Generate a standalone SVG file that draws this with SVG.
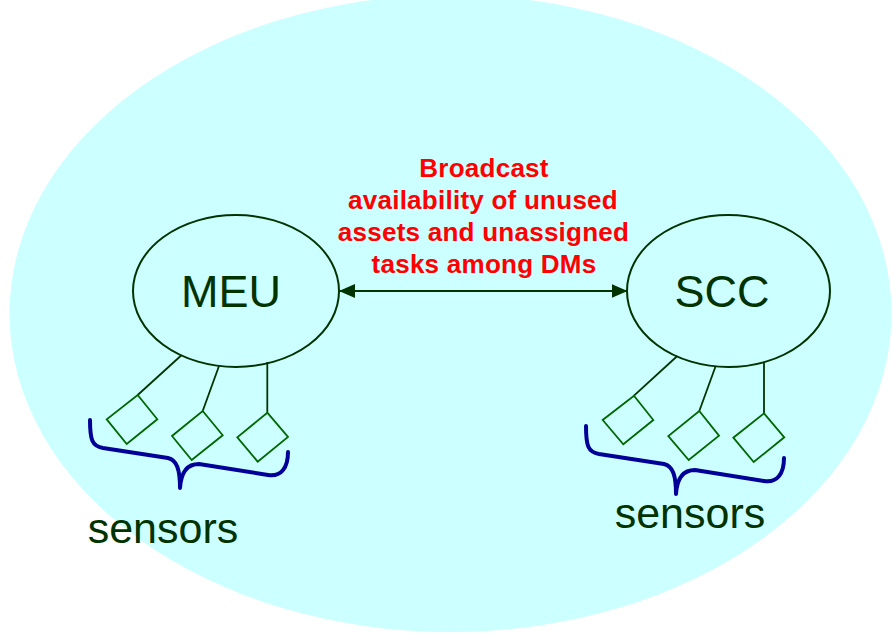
<svg xmlns="http://www.w3.org/2000/svg" width="894" height="635" viewBox="0 0 894 635">
  <style>
    .node { fill: none; stroke: #003300; stroke-width: 2; }
    .lbl { font-family: "Liberation Sans", Arial, sans-serif; fill: #003300; text-anchor: middle; }
    .red { font-family: "Liberation Sans", Arial, sans-serif; fill: #ff0000; font-weight: bold; font-size: 26px; letter-spacing: 0.25px; text-anchor: middle; }
    .wire { stroke: #003300; stroke-width: 1.8; fill: none; }
    .sensor { fill: none; stroke: #006600; stroke-width: 1.8; }
    .brace { fill: none; stroke: #000099; stroke-width: 4; stroke-linecap: round; stroke-linejoin: round; }
  </style>
  <defs>
    <marker id="ah" markerUnits="userSpaceOnUse" markerWidth="16" markerHeight="16" viewBox="0 0 16 16" refX="15" refY="8" orient="auto-start-reverse">
      <path d="M0,1 L16,8 L0,15 Z" fill="#003300"/>
    </marker>
  </defs>
  <rect width="894" height="635" fill="#ffffff"/>
  <ellipse id="background" cx="450.5" cy="313.5" rx="441" ry="318.5" fill="#ccffff"/>

  <g id="meu">
    <ellipse class="node" cx="236" cy="291" rx="103" ry="76" fill="#ccffff"/>
    <text class="lbl" x="231" y="307" font-size="45">MEU</text>
  </g>
  <g id="scc">
    <ellipse class="node" cx="728.5" cy="291" rx="101.5" ry="76" fill="#ccffff"/>
    <text class="lbl" x="722" y="307" font-size="45">SCC</text>
  </g>

  <g id="message">
    <text class="red" x="484" y="177">Broadcast</text>
    <text class="red" x="483" y="209">availability of unused</text>
    <text class="red" x="483.5" y="241">assets and unassigned</text>
    <text class="red" x="484" y="273">tasks among DMs</text>
  </g>

  <g id="connectors">
    <line x1="340" y1="291" x2="626.5" y2="291" stroke="#003300" stroke-width="2" marker-start="url(#ah)" marker-end="url(#ah)"/>
    <line class="wire" x1="181.7" y1="355" x2="137.7" y2="395"/>
    <line class="wire" x1="219" y1="366" x2="202.7" y2="411"/>
    <line class="wire" x1="267.3" y1="362" x2="267.3" y2="412.7"/>
    <line class="wire" x1="677.3" y1="356" x2="634" y2="395.7"/>
    <line class="wire" x1="715.7" y1="366" x2="699.3" y2="411"/>
    <line class="wire" x1="764" y1="362.5" x2="764" y2="413.3"/>
  </g>

  <g id="meu-sensors">
    <polygon class="sensor" points="137.7,395 157.3,419.3 126.7,444 106.7,419.3"/>
    <polygon class="sensor" points="202.7,411 222.7,435.3 191.7,460 172,436"/>
    <polygon class="sensor" points="267.3,412.7 288,437 257.7,461.7 237.3,437.3"/>
    <path class="brace" d="M90,420 C90,440 92,446 103,448 L168,458 C177,460 180,470 180,488 C181,472 187,464 199,464 L268,475 C281,477 288,468 288,452"/>
    <text class="lbl" x="163" y="543" font-size="43">sensors</text>
  </g>

  <g id="scc-sensors">
    <polygon class="sensor" points="634,395.7 653.3,420 623.3,444.3 602.7,420"/>
    <polygon class="sensor" points="699.3,411 719,435.7 688.7,460 668.3,436"/>
    <polygon class="sensor" points="764,413.3 784.3,437.3 753.7,462 733.3,437.7"/>
    <path class="brace" d="M586,426 C586,446 588,452 599,454 L664,464 C673,466 676,476 676,494 C677,478 683,470 695,470 L764,481 C777,483 784,474 784,458"/>
    <text class="lbl" x="690" y="528" font-size="43">sensors</text>
  </g>
</svg>
